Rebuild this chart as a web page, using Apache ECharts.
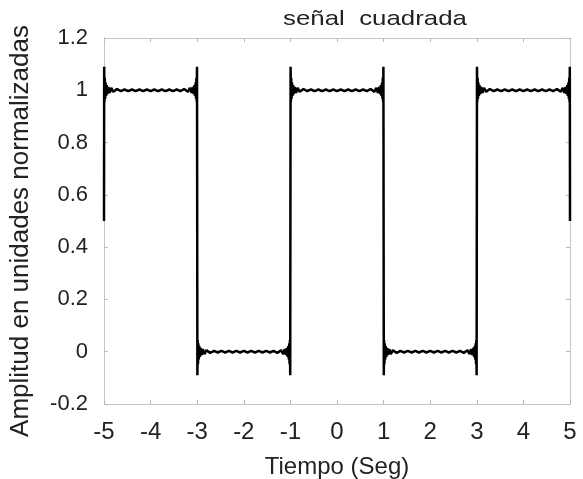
<!DOCTYPE html>
<html>
<head>
<meta charset="utf-8">
<script src="https://cdn.jsdelivr.net/npm/echarts@6/dist/echarts.min.js"></script>
<style>
  html, body { margin: 0; padding: 0; background: #ffffff; }
  #chart { width: 583px; height: 479px; }
</style>
</head>
<body>
<div id="chart"></div>
<script>
// Serie de Fourier de una señal cuadrada (periodo 4 s), con oscilaciones de Gibbs.
// Cada tramo: pares [tiempo (s), amplitud normalizada].
const pulso1 = [
  [-5.000, 0.50], [-4.996, 1.09], [-4.990, 0.955], [-4.983, 1.048], [-4.975, 0.968], [-4.966, 1.03],
  [-4.955, 0.978], [-4.942, 1.02], [-4.926, 0.985], [-4.905, 1.013], [-4.878, 0.99], [-4.845, 1.009],
  [-4.80, 0.994], [-4.72, 1.005], [-4.64, 0.997], [-4.56, 1.003], [-4.48, 0.997], [-4.40, 1.003],
  [-4.32, 0.997], [-4.24, 1.003], [-4.16, 0.997], [-4.08, 1.003], [-4.00, 0.997], [-3.92, 1.003],
  [-3.84, 0.997], [-3.76, 1.003], [-3.68, 0.997], [-3.60, 1.003], [-3.52, 0.997], [-3.44, 1.003],
  [-3.36, 0.997], [-3.28, 1.005], [-3.20, 0.994],
  [-3.155, 1.009], [-3.122, 0.99], [-3.095, 1.013], [-3.074, 0.985], [-3.058, 1.02], [-3.045, 0.978],
  [-3.034, 1.03], [-3.025, 0.968], [-3.017, 1.048], [-3.010, 0.955], [-3.004, 1.09]
];
const valle1 = [
  [-3.000, 0.50], [-2.996, -0.09], [-2.990, 0.045], [-2.983, -0.048], [-2.975, 0.032], [-2.966, -0.03],
  [-2.955, 0.022], [-2.942, -0.02], [-2.926, 0.015], [-2.905, -0.013], [-2.878, 0.01], [-2.845, -0.009],
  [-2.80, 0.006], [-2.72, -0.005], [-2.64, 0.003], [-2.56, -0.003], [-2.48, 0.003], [-2.40, -0.003],
  [-2.32, 0.003], [-2.24, -0.003], [-2.16, 0.003], [-2.08, -0.003], [-2.00, 0.003], [-1.92, -0.003],
  [-1.84, 0.003], [-1.76, -0.003], [-1.68, 0.003], [-1.60, -0.003], [-1.52, 0.003], [-1.44, -0.003],
  [-1.36, 0.003], [-1.28, -0.005], [-1.20, 0.006],
  [-1.155, -0.009], [-1.122, 0.01], [-1.095, -0.013], [-1.074, 0.015], [-1.058, -0.02], [-1.045, 0.022],
  [-1.034, -0.03], [-1.025, 0.032], [-1.017, -0.048], [-1.010, 0.045], [-1.004, -0.09]
];
const pulso2 = [
  [-1.000, 0.50], [-0.996, 1.09], [-0.990, 0.955], [-0.983, 1.048], [-0.975, 0.968], [-0.966, 1.03],
  [-0.955, 0.978], [-0.942, 1.02], [-0.926, 0.985], [-0.905, 1.013], [-0.878, 0.99], [-0.845, 1.009],
  [-0.80, 0.994], [-0.72, 1.005], [-0.64, 0.997], [-0.56, 1.003], [-0.48, 0.997], [-0.40, 1.003],
  [-0.32, 0.997], [-0.24, 1.003], [-0.16, 0.997], [-0.08, 1.003], [0.00, 0.997], [0.08, 1.003],
  [0.16, 0.997], [0.24, 1.003], [0.32, 0.997], [0.40, 1.003], [0.48, 0.997], [0.56, 1.003],
  [0.64, 0.997], [0.72, 1.005], [0.80, 0.994],
  [0.845, 1.009], [0.878, 0.99], [0.905, 1.013], [0.926, 0.985], [0.942, 1.02], [0.955, 0.978],
  [0.966, 1.03], [0.975, 0.968], [0.983, 1.048], [0.990, 0.955], [0.996, 1.09]
];
const valle2 = [
  [1.000, 0.50], [1.004, -0.09], [1.010, 0.045], [1.017, -0.048], [1.025, 0.032], [1.034, -0.03],
  [1.045, 0.022], [1.058, -0.02], [1.074, 0.015], [1.095, -0.013], [1.122, 0.01], [1.155, -0.009],
  [1.20, 0.006], [1.28, -0.005], [1.36, 0.003], [1.44, -0.003], [1.52, 0.003], [1.60, -0.003],
  [1.68, 0.003], [1.76, -0.003], [1.84, 0.003], [1.92, -0.003], [2.00, 0.003], [2.08, -0.003],
  [2.16, 0.003], [2.24, -0.003], [2.32, 0.003], [2.40, -0.003], [2.48, 0.003], [2.56, -0.003],
  [2.64, 0.003], [2.72, -0.005], [2.80, 0.006],
  [2.845, -0.009], [2.878, 0.01], [2.905, -0.013], [2.926, 0.015], [2.942, -0.02], [2.955, 0.022],
  [2.966, -0.03], [2.975, 0.032], [2.983, -0.048], [2.990, 0.045], [2.996, -0.09]
];
const pulso3 = [
  [3.000, 0.50], [3.004, 1.09], [3.010, 0.955], [3.017, 1.048], [3.025, 0.968], [3.034, 1.03],
  [3.045, 0.978], [3.058, 1.02], [3.074, 0.985], [3.095, 1.013], [3.122, 0.99], [3.155, 1.009],
  [3.20, 0.994], [3.28, 1.005], [3.36, 0.997], [3.44, 1.003], [3.52, 0.997], [3.60, 1.003],
  [3.68, 0.997], [3.76, 1.003], [3.84, 0.997], [3.92, 1.003], [4.00, 0.997], [4.08, 1.003],
  [4.16, 0.997], [4.24, 1.003], [4.32, 0.997], [4.40, 1.003], [4.48, 0.997], [4.56, 1.003],
  [4.64, 0.997], [4.72, 1.005], [4.80, 0.994],
  [4.845, 1.009], [4.878, 0.99], [4.905, 1.013], [4.926, 0.985], [4.942, 1.02], [4.955, 0.978],
  [4.966, 1.03], [4.975, 0.968], [4.983, 1.048], [4.990, 0.955], [4.996, 1.09], [5.000, 0.50]
];

// Escalas de los ejes
const ejeTiempo = { min: -5, max: 5, paso: 1 };
const ejeAmplitud = { min: -0.2, max: 1.2, paso: 0.2 };

const senal = [].concat(pulso1, valle1, pulso2, valle2, pulso3);

const FUENTE = "'Liberation Sans', Arial, sans-serif";
const TEXTO = '#222222';
const MARCO = '#c6c6c6';

const chart = echarts.init(document.getElementById('chart'), null, { renderer: 'canvas' });

const ejeX = (pos, conEtiquetas) => ({
  type: 'value',
  position: pos,
  min: ejeTiempo.min,
  max: ejeTiempo.max,
  interval: ejeTiempo.paso,
  axisLine: { show: true, onZero: false, lineStyle: { color: MARCO, width: 1 } },
  axisTick: { show: true, inside: true, length: 4, lineStyle: { color: '#b8b8b8' } },
  axisLabel: { show: conEtiquetas, fontSize: 24, color: TEXTO, fontFamily: FUENTE, margin: 16 },
  splitLine: { show: false },
  name: conEtiquetas ? 'Tiempo (Seg)' : '',
  nameLocation: 'middle',
  nameGap: 51,
  nameTextStyle: { fontSize: 24, color: TEXTO, fontFamily: FUENTE }
});

const ejeY = (pos, conEtiquetas) => ({
  type: 'value',
  position: pos,
  min: ejeAmplitud.min,
  max: ejeAmplitud.max,
  interval: ejeAmplitud.paso,
  axisLine: { show: true, onZero: false, lineStyle: { color: MARCO, width: 1 } },
  axisTick: { show: true, inside: true, length: 4, lineStyle: { color: '#b8b8b8' } },
  axisLabel: { show: conEtiquetas, fontSize: 22, color: TEXTO, fontFamily: FUENTE, margin: 16 },
  splitLine: { show: false },
  name: conEtiquetas ? 'Amplitud en unidades normalizadas' : '',
  nameLocation: 'middle',
  nameGap: 70,
  nameTextStyle: { fontSize: 26, color: TEXTO, fontFamily: FUENTE, padding: [0, 20, 0, 0] }
});

chart.setOption({
  animation: false,
  backgroundColor: '#ffffff',
  grid: { left: 104, right: 13, top: 38, bottom: 75, containLabel: false, outerBoundsMode: 'none' },
  xAxis: [ejeX('bottom', true), ejeX('top', false)],
  yAxis: [ejeY('left', true), ejeY('right', false)],
  // Título, ligeramente ensanchado en horizontal
  graphic: [{
    type: 'text',
    x: 375,
    y: 19,
    scaleX: 1.23,
    style: {
      text: 'señal  cuadrada',
      fontSize: 21,
      fontFamily: FUENTE,
      fill: TEXTO,
      textAlign: 'center',
      textVerticalAlign: 'middle'
    }
  }],
  series: [{
    type: 'line',
    data: senal,
    xAxisIndex: 0,
    yAxisIndex: 0,
    showSymbol: false,
    symbol: 'none',
    lineStyle: { color: '#000000', width: 2.5 },
    z: 3
  }]
});
</script>
</body>
</html>
